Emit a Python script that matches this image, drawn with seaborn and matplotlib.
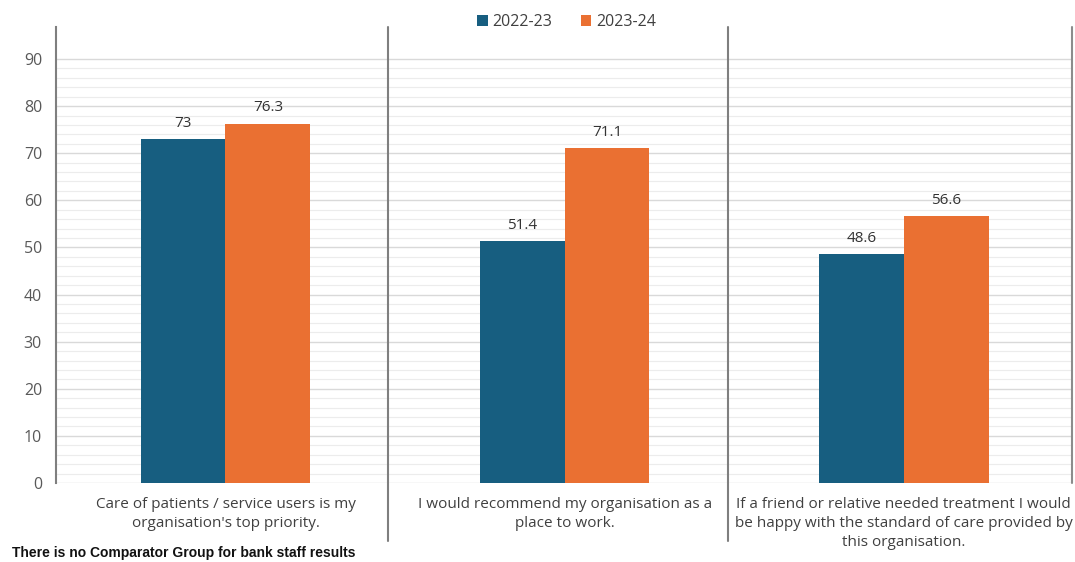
import matplotlib
matplotlib.use("Agg")
import matplotlib.pyplot as plt
import seaborn as sns
import pandas as pd
import numpy as np

categories = [
    "Care of patients / service users is my\norganisation's top priority.",
    "I would recommend my organisation as a\nplace to work.",
    "If a friend or relative needed treatment I would\nbe happy with the standard of care provided by\nthis organisation.",
]
series_names = ["2022-23", "2023-24"]
values_2022 = [73, 51.4, 48.6]
values_2023 = [76.3, 71.1, 56.6]
colors = ["#175E80", "#EA7032"]

df = pd.DataFrame({
    "category": categories * 2,
    "year": [series_names[0]] * 3 + [series_names[1]] * 3,
    "value": values_2022 + values_2023,
})

sns.set_style("white")
plt.rcParams['font.family'] = ['Open Sans', 'DejaVu Sans']

fig = plt.figure(figsize=(10.75, 5.62), dpi=100)
ax = fig.add_axes([0.052, 0.1406, 0.9465, 0.8114])

sns.barplot(data=df, x="category", y="value", hue="year", palette=colors,
            width=0.5, gap=0, saturation=1, ax=ax, order=categories,
            hue_order=series_names, errorbar=None, linewidth=0, edgecolor="none")

for cont in ax.containers:
    ax.bar_label(cont, labels=[f"{v:g}" for v in cont.datavalues],
                 padding=6, fontsize=11, color="#333333")

ax.set_ylim(0, 96.8)
ax.set_xlim(-0.5, 2.5)
ax.set_yticks(np.arange(0, 91, 10))
ax.set_yticks([v for v in np.arange(2, 91, 2) if v % 10 != 0], minor=True)
ax.grid(axis="y", which="major", color="#d9d9d9", linewidth=1.0)
ax.grid(axis="y", which="minor", color="#ececec", linewidth=0.8)
ax.set_axisbelow(True)
ax.tick_params(axis="y", which="both", length=0, labelsize=11.5, labelcolor="#595959", pad=10)
ax.tick_params(axis="x", length=0, labelsize=11, labelcolor="#404040", pad=10)
for lab in ax.get_xticklabels():
    lab.set_linespacing(1.35)
ax.set_xlabel("")
ax.set_ylabel("")

for s in ["top", "right", "bottom"]:
    ax.spines[s].set_visible(False)
ax.spines["left"].set_color("#7f7f7f")
ax.spines["left"].set_linewidth(1.5)
ax.spines["left"].set_bounds(0, 96.8)

# category separators (extend below axis like Excel tick marks)
for xs in [0.48, 1.482]:
    ax.plot([xs, xs], [-12.3, 96.8], color="#7f7f7f", linewidth=1.5, clip_on=False, zorder=3)
ax.plot([2.497, 2.497], [0, 96.8], color="#8c8c8c", linewidth=1.5, clip_on=False, zorder=3)

leg = ax.legend(loc="upper center", bbox_to_anchor=(0.502, 1.06), ncol=2, frameon=False,
                fontsize=11.5, handlelength=0.65, handleheight=0.65, columnspacing=1.8,
                handletextpad=0.3, labelcolor="#404040")

fig.text(0.011, 0.003, "There is no Comparator Group for bank staff results",
         fontsize=10, fontweight="bold", color="#111111", ha="left", va="bottom",
         family=["Liberation Sans", "DejaVu Sans"])

fig.savefig("out.png", dpi=100)
